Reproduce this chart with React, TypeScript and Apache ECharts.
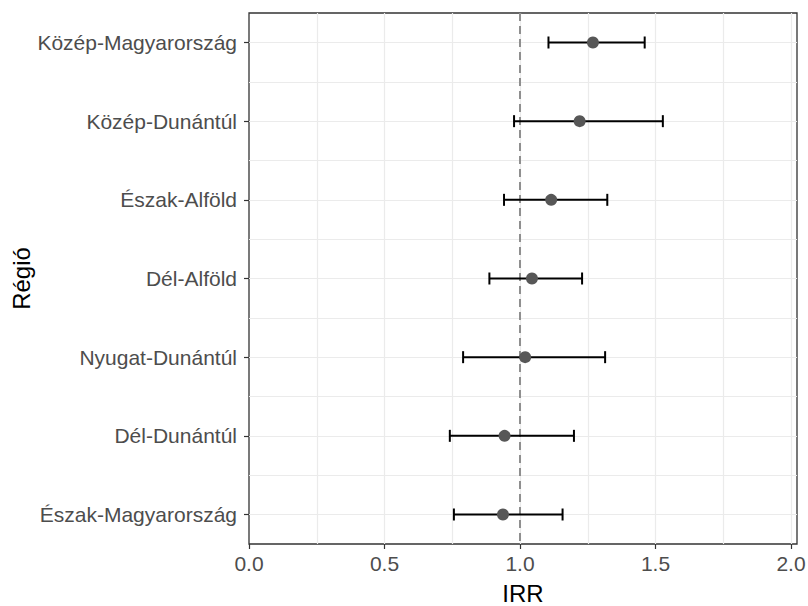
import React, { useEffect, useRef } from "react";
import * as echarts from "echarts";

const regions = [
  "Közép-Magyarország",
  "Közép-Dunántúl",
  "Észak-Alföld",
  "Dél-Alföld",
  "Nyugat-Dunántúl",
  "Dél-Dunántúl",
  "Észak-Magyarország",
];
const irr = [1.269, 1.22, 1.115, 1.044, 1.019, 0.943, 0.937];
const lower = [1.105, 0.978, 0.941, 0.887, 0.79, 0.741, 0.756];
const upper = [1.46, 1.527, 1.322, 1.229, 1.314, 1.199, 1.157];
const xTicks = [0, 0.5, 1.0, 1.5, 2.0];
const xMinorGrid = [0.25, 0.75, 1.25, 1.75];
const yMinorGrid = [0.5, 1.5, 2.5, 3.5, 4.5, 5.5];
const refLine = 1;

const FONT = "'Liberation Sans', Arial, sans-serif";

export default function App() {
  const ref = useRef<HTMLDivElement>(null);
  useEffect(() => {
    if (!ref.current) return;
    const chart = echarts.init(ref.current, null, { renderer: "svg" });
    const idx = regions.map((_, i) => i);
    const gridLines = [
      ...idx.map((i) => ({ yAxis: i })),
      ...yMinorGrid.map((v) => ({ yAxis: v })),
      ...xTicks.filter((v) => v > 0).map((v) => ({ xAxis: v })),
      ...xMinorGrid.map((v) => ({ xAxis: v })),
    ];
    chart.setOption({
      animation: false,
      backgroundColor: "#ffffff",
      grid: {
        left: 249,
        right: 11,
        top: 13,
        bottom: 62,
        show: true,
        borderColor: "#333333",
        borderWidth: 1.3,
        backgroundColor: "#ffffff",
        containLabel: false,
        outerBoundsMode: "none",
      },
      xAxis: {
        type: "value",
        min: 0,
        max: 2.022,
        interval: 0.5,
        name: "IRR",
        nameLocation: "middle",
        nameGap: 37,
        nameMoveOverlap: false,
        nameTextStyle: { fontSize: 24, color: "#000000", fontFamily: FONT },
        axisLine: { show: false, onZero: false },
        axisTick: {
          show: true,
          length: 5,
          customValues: xTicks,
          lineStyle: { color: "#333333", width: 1.2 },
        },
        axisLabel: {
          customValues: xTicks,
          formatter: (v: number) => v.toFixed(1),
          fontSize: 21,
          color: "#4d4d4d",
          fontFamily: FONT,
          margin: 9,
        },
        splitLine: { show: false },
      },
      yAxis: {
        type: "value",
        inverse: true,
        min: -0.375,
        max: 6.375,
        name: "Régió",
        nameLocation: "middle",
        nameGap: 216,
        nameMoveOverlap: false,
        nameRotate: 90,
        nameTextStyle: { fontSize: 24, color: "#000000", fontFamily: FONT },
        axisLine: { show: false, onZero: false },
        axisTick: {
          show: true,
          length: 5,
          customValues: idx,
          lineStyle: { color: "#333333", width: 1.2 },
        },
        axisLabel: {
          customValues: idx,
          formatter: (v: number) => regions[Math.round(v)] ?? "",
          fontSize: 21,
          color: "#4d4d4d",
          fontFamily: FONT,
          margin: 12,
        },
        splitLine: { show: false },
      },
      series: [
        {
          type: "line",
          data: [],
          silent: true,
          z: 1,
          markLine: {
            silent: true,
            z: 1,
            symbol: ["none", "none"],
            label: { show: false },
            lineStyle: { color: "#ebebeb", width: 1.2, type: "solid" },
            data: gridLines,
          },
        },
        {
          type: "line",
          data: [],
          silent: true,
          z: 2,
          markLine: {
            silent: true,
            z: 2,
            symbol: ["none", "none"],
            label: { show: false },
            lineStyle: { color: "#8f8f8f", width: 2, type: [8, 5], opacity: 1 },
            data: [{ xAxis: refLine }],
          },
        },
        {
          type: "custom",
          renderItem: (params: any, api: any) => {
            const y = api.value(0);
            const lo = api.coord([api.value(1), y]);
            const hi = api.coord([api.value(2), y]);
            const h = 6;
            const style = { stroke: "#000000", lineWidth: 2, fill: "none" };
            return {
              type: "group",
              children: [
                { type: "line", shape: { x1: lo[0], y1: lo[1], x2: hi[0], y2: hi[1] }, style },
                { type: "line", shape: { x1: lo[0], y1: lo[1] - h, x2: lo[0], y2: lo[1] + h }, style },
                { type: "line", shape: { x1: hi[0], y1: hi[1] - h, x2: hi[0], y2: hi[1] + h }, style },
              ],
            };
          },
          encode: { x: [1, 2], y: 0 },
          data: idx.map((i) => [i, lower[i], upper[i]]),
          z: 3,
        },
        {
          type: "scatter",
          symbol: "circle",
          symbolSize: 12,
          itemStyle: { color: "#575757", opacity: 1 },
          data: idx.map((i) => [irr[i], i]),
          z: 4,
        },
      ],
    });
    return () => chart.dispose();
  }, []);
  return <div ref={ref} style={{ width: 808, height: 606, position: "absolute", left: 0, top: 0 }} />;
}
